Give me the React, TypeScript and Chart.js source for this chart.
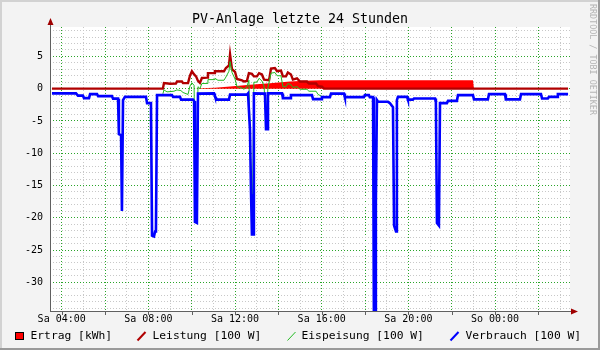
import React, { useEffect, useRef } from "react";
import { Chart, registerables } from "chart.js";

Chart.register(...registerables);

// ---- axis / tick data ----
const xMinHour = 3.46;
const xMaxHour = 27.46;
const yMin = -34.45;
const yMax = 9.55;
const xTickHours = [4, 8, 12, 16, 20, 24];
const xTickLabels = ["Sa 04:00", "Sa 08:00", "Sa 12:00", "Sa 16:00", "Sa 20:00", "So 00:00"];
const yLabelValues = [5, 0, -5, -10, -15, -20, -25, -30];

// ---- series (hours since midnight Saturday, values) ----
const verbrauchHours = [
  3.55, 4.66, 4.75, 4.98, 5.03, 5.26, 5.31, 5.63, 5.68, 6.32, 6.37, 6.6, 6.64, 6.74, 6.78, 6.83, 6.92,
  7.89, 7.94, 8.12, 8.17, 8.26, 8.31, 8.35, 8.4, 9.09, 9.14, 9.46, 9.51, 10.06, 10.11, 10.15, 10.24,
  10.29, 11.03, 11.07, 11.17, 11.72, 11.77, 12.55, 12.6, 12.69, 12.74, 12.78, 12.83, 12.87, 13.38,
  13.43, 13.48, 13.52, 14.17, 14.21, 14.54, 14.58, 15.55, 15.6, 15.97, 16.01, 16.38, 16.43, 17.03,
  17.07, 17.95, 17.99, 18.18, 18.22, 18.37, 18.41, 18.46, 18.5, 18.55, 18.6, 19.06, 19.15, 19.29,
  19.34, 19.43, 19.47, 19.52, 19.94, 19.98, 20.21, 20.26, 21.23, 21.27, 21.32, 21.41, 21.46, 21.78,
  21.83, 22.24, 22.29, 22.98, 23.03, 23.67, 23.72, 24.46, 24.5, 25.15, 25.2, 26.12, 26.17, 26.44,
  26.49, 26.86, 26.9, 27.37,
];
const verbrauchValues = [
  -0.74, -0.74, -1.08, -1.08, -1.47, -1.47, -0.85, -0.85, -1.16, -1.16, -1.55, -1.55, -7.04, -7.2,
  -18.96, -1.78, -1.27, -1.27, -2.24, -2.24, -22.76, -22.9, -22.14, -21.98, -1.01, -1.01, -1.27,
  -1.27, -1.7, -1.7, -1.93, -20.67, -20.82, -0.77, -0.74, -1.16, -1.7, -1.7, -0.93, -0.93, -0.74,
  -6.42, -16.33, -22.6, -22.6, -0.74, -0.77, -6.27, -6.27, -0.74, -0.74, -1.47, -1.47, -1.01, -1.01,
  -1.63, -1.63, -1.32, -1.32, -0.77, -0.77, -1.32, -1.32, -1.01, -1.01, -1.32, -1.32, -36, -36,
  -17.72, -1.78, -2.04, -2.04, -2.24, -2.86, -21.21, -22.14, -1.78, -1.27, -1.27, -1.7, -1.7, -1.52,
  -1.52, -2.09, -20.82, -21.21, -2.24, -2.24, -1.89, -1.89, -1.01, -1.01, -1.67, -1.67, -0.85, -0.85,
  -1.67, -1.67, -0.85, -0.85, -1.52, -1.52, -1.27, -1.27, -0.85, -0.85,
];

const leistungHours = [
  3.55, 8.67, 8.72, 9.0, 9.27, 9.32, 9.55, 9.6, 9.83, 9.92, 10.01, 10.11, 10.2, 10.29, 10.38, 10.47,
  10.71, 10.75, 11.03, 11.07, 11.49, 11.58, 11.72, 11.77, 11.86, 12.0, 12.09, 12.32, 12.41, 12.55,
  12.64, 12.78, 12.87, 13.01, 13.11, 13.24, 13.34, 13.57, 13.66, 13.84, 13.94, 14.12, 14.21, 14.35,
  14.44, 14.58, 14.67, 14.86, 15.0, 15.32, 15.41, 15.74, 15.83, 16.01, 16.1, 27.37,
];
const leistungValues = [
  0, 0, 0.85, 0.75, 0.8, 1.1, 1.1, 0.85, 0.85, 2.0, 2.7, 2.2, 1.9, 1.2, 0.9, 1.65, 1.7, 2.4, 2.4, 2.7,
  2.7, 3.2, 3.6, 5.3, 3.0, 2.6, 1.5, 1.3, 1.1, 1.2, 2.4, 2.3, 1.9, 1.9, 2.4, 2.2, 1.4, 1.3, 3.1, 3.2,
  2.7, 2.8, 1.9, 1.9, 2.5, 2.2, 1.4, 1.6, 1.1, 1.1, 0.8, 0.8, 0.4, 0.3, 0, 0,
];

const einspeisungHours = [
  8.67, 8.72, 8.86, 9.18, 9.32, 9.5, 9.6, 9.83, 9.92, 10.01, 10.11, 10.18, 10.29, 10.38, 10.47, 10.71,
  10.75, 11.03, 11.07, 11.21, 11.49, 11.58, 11.72, 11.77, 11.86, 12.0, 12.09, 12.32, 12.41, 12.55,
  12.64, 12.74, 12.8, 12.87, 13.01, 13.11, 13.24, 13.34, 13.43, 13.52, 13.66, 13.84, 13.94, 14.12,
  14.21, 14.35, 14.44, 14.58, 14.67, 14.86, 15.0, 15.32, 15.41, 15.74, 15.83, 16.01, 16.38,
];
const einspeisungValues = [
  -0.8, -0.2, -0.5, -0.4, -0.2, -0.3, -0.6, -0.9, 0.4, 0.9, 0.5, -19, 0.3, 0.0, 0.8, 0.8, 1.4, 1.4,
  1.6, 1.3, 1.3, 1.8, 2.7, 4.2, 2.5, 1.5, 0.3, 0.1, -0.1, 0.3, 1.3, -14.5, -20, 1.0, 1.0, 1.6, 1.2,
  0.4, -5, 0.2, 2.4, 2.5, 2.0, 2.0, 0.3, 0.3, 0.8, 0.6, 0.2, 0.3, -0.1, -0.1, -0.4, -0.4, -0.9, -1.2,
  -1.3,
];

const ertragHours = [3.55, 10.15, 10.38, 11.07, 11.77, 12.69, 13.61, 14.54, 15.23, 15.92, 22.98, 23.03, 27.37];
const ertragValues = [0, 0, 0.05, 0.15, 0.35, 0.6, 0.85, 1.1, 1.22, 1.3, 1.3, 0, 0];

const legendLabels = ["Ertrag [kWh]", "Leistung [100 W]", "Eispeisung [100 W]", "Verbrauch [100 W]"];
const chartTitle = "PV-Anlage letzte 24 Stunden";
const watermark = "RRDTOOL / TOBI OETIKER";

const COLORS = {
  ertrag: "#ff0000",
  leistung: "#b00000",
  einspeisung: "#22bb22",
  verbrauch: "#0000ff",
  majorGrid: "#2aa52a",
  minorGrid: "#c8c8c8",
  axis: "#606060",
  arrow: "#a00000",
};

const MONO = '"DejaVu Sans Mono", monospace';

const pts = (xs: number[], ys: number[]) => xs.map((x, i) => ({ x, y: ys[i] }));

const rrdPlugin = {
  id: "rrdDecor",
  beforeDraw(chart: any) {
    const { ctx, chartArea } = chart;
    ctx.save();
    ctx.fillStyle = "#f3f3f3";
    ctx.fillRect(0, 0, chart.width, chart.height);
    ctx.fillStyle = "#ffffff";
    ctx.fillRect(chartArea.left, chartArea.top, chartArea.right - chartArea.left, chartArea.bottom - chartArea.top);
    ctx.restore();
  },
  afterDraw(chart: any) {
    const { ctx, chartArea, scales } = chart;
    const xs = scales.x;
    const L = chartArea.left;
    const B = chartArea.bottom;
    ctx.save();
    // axes
    ctx.strokeStyle = COLORS.axis;
    ctx.lineWidth = 1;
    ctx.beginPath();
    ctx.moveTo(L + 0.5, B + 0.5);
    ctx.lineTo(L + 0.5, 24);
    ctx.moveTo(L, B + 0.5);
    ctx.lineTo(chartArea.right + 2, B + 0.5);
    // tick marks every 2 hours
    for (let h = 4; h <= 26; h += 2) {
      const px = Math.round(xs.getPixelForValue(h)) + 0.5;
      ctx.moveTo(px, B + 1);
      ctx.lineTo(px, B + 4);
    }
    ctx.stroke();
    // arrows
    ctx.fillStyle = COLORS.arrow;
    ctx.beginPath();
    ctx.moveTo(L + 0.5, 18);
    ctx.lineTo(L + 3.5, 25);
    ctx.lineTo(L - 2.5, 25);
    ctx.closePath();
    ctx.fill();
    ctx.beginPath();
    ctx.moveTo(chartArea.right + 8, B + 0.5);
    ctx.lineTo(chartArea.right + 1, B - 2.5);
    ctx.lineTo(chartArea.right + 1, B + 3.5);
    ctx.closePath();
    ctx.fill();

    // title
    ctx.fillStyle = "#000";
    ctx.font = `13.3px ${MONO}`;
    ctx.textAlign = "center";
    ctx.textBaseline = "middle";
    ctx.fillText(chartTitle, 300, 20);

    // watermark
    ctx.save();
    ctx.translate(592, 4);
    ctx.rotate(Math.PI / 2);
    ctx.font = `8.4px ${MONO}`;
    ctx.fillStyle = "#b4b4b4";
    ctx.textAlign = "left";
    ctx.textBaseline = "middle";
    ctx.fillText(watermark, 0, 0);
    ctx.restore();

    // legend
    const ly = 336;
    ctx.font = `11.3px ${MONO}`;
    ctx.textAlign = "left";
    ctx.textBaseline = "middle";
    ctx.fillStyle = COLORS.ertrag;
    ctx.fillRect(15, 332, 9, 8);
    ctx.strokeStyle = "#000";
    ctx.lineWidth = 1;
    ctx.strokeRect(15.5, 332.5, 8, 7);
    ctx.fillStyle = "#000";
    ctx.fillText(legendLabels[0], 30.5, ly);

    const icon = (x: number, color: string, w: number) => {
      ctx.strokeStyle = color;
      ctx.lineWidth = w;
      ctx.beginPath();
      ctx.moveTo(x, 340.5);
      ctx.lineTo(x + 8, 332);
      ctx.stroke();
    };
    icon(137.5, COLORS.leistung, 2);
    ctx.fillText(legendLabels[1], 152.5, ly);
    icon(287.5, COLORS.einspeisung, 1);
    ctx.fillText(legendLabels[2], 301.5, ly);
    icon(450.5, COLORS.verbrauch, 2);
    ctx.fillText(legendLabels[3], 465.5, ly);

    // frame
    ctx.lineWidth = 2;
    ctx.strokeStyle = "#d2d2d2";
    ctx.beginPath();
    ctx.moveTo(1, 349);
    ctx.lineTo(1, 1);
    ctx.lineTo(599, 1);
    ctx.stroke();
    ctx.strokeStyle = "#9a9a9a";
    ctx.beginPath();
    ctx.moveTo(599, 0);
    ctx.lineTo(599, 349);
    ctx.lineTo(0, 349);
    ctx.stroke();
    ctx.restore();
  },
};

export default function App() {
  const canvasRef = useRef<HTMLCanvasElement | null>(null);

  useEffect(() => {
    if (!canvasRef.current) return;
    const chart = new Chart(canvasRef.current, {
      type: "line",
      data: {
        datasets: [
          {
            label: legendLabels[3],
            data: pts(verbrauchHours, verbrauchValues),
            borderColor: COLORS.verbrauch,
            borderWidth: 2.6,
            pointRadius: 0,
            fill: false,
            tension: 0,
            order: 0,
          },
          {
            label: legendLabels[2],
            data: pts(einspeisungHours, einspeisungValues),
            borderColor: COLORS.einspeisung,
            borderWidth: 1,
            pointRadius: 0,
            fill: false,
            tension: 0,
            order: 1,
          },
          {
            label: legendLabels[1],
            data: pts(leistungHours, leistungValues),
            borderColor: COLORS.leistung,
            borderWidth: 2.4,
            pointRadius: 0,
            fill: false,
            tension: 0,
            order: 2,
          },
          {
            label: legendLabels[0],
            data: pts(ertragHours, ertragValues),
            borderColor: COLORS.ertrag,
            backgroundColor: COLORS.ertrag,
            borderWidth: 0,
            pointRadius: 0,
            fill: "origin",
            tension: 0,
            order: 3,
          },
        ],
      },
      options: {
        animation: false,
        responsive: false,
        devicePixelRatio: 1,
        events: [],
        layout: { padding: { left: 0, right: 30, top: 27, bottom: 0 } },
        plugins: {
          legend: { display: false },
          title: { display: false },
          tooltip: { enabled: false },
        },
        scales: {
          x: {
            type: "linear",
            min: xMinHour,
            max: xMaxHour,
            afterBuildTicks: (scale: any) => {
              const t = [];
              for (let h = 4; h <= 27; h++) t.push({ value: h });
              scale.ticks = t;
            },
            afterFit: (scale: any) => {
              scale.height = 39;
            },
            ticks: {
              autoSkip: false,
              maxRotation: 0,
              minRotation: 0,
              padding: 2,
              color: "#000",
              font: { family: "DejaVu Sans Mono", size: 10 },
              callback: (value: any) => {
                const i = xTickHours.indexOf(Number(value));
                return i >= 0 ? xTickLabels[i] : "";
              },
            },
            grid: {
              drawTicks: false,
              lineWidth: 1,
              color: (ctx: any) =>
                ctx.tick && ctx.tick.value % 2 === 0 ? COLORS.majorGrid : COLORS.minorGrid,
            },
            border: { display: false, dash: [1, 2] },
          },
          y: {
            type: "linear",
            min: yMin,
            max: yMax,
            afterBuildTicks: (scale: any) => {
              const t = [];
              for (let v = -34; v <= 9; v++) t.push({ value: v });
              scale.ticks = t;
            },
            afterFit: (scale: any) => {
              scale.width = 50;
            },
            ticks: {
              autoSkip: false,
              padding: 7,
              color: "#000",
              font: { family: "DejaVu Sans Mono", size: 10 },
              callback: (value: any) =>
                yLabelValues.includes(Number(value)) ? String(value) : "",
            },
            grid: {
              drawTicks: false,
              lineWidth: 1,
              color: (ctx: any) =>
                ctx.tick && ctx.tick.value % 5 === 0 ? COLORS.majorGrid : COLORS.minorGrid,
            },
            border: { display: false, dash: [1, 2] },
          },
        },
      },
      plugins: [rrdPlugin],
    });
    return () => chart.destroy();
  }, []);

  return (
    <div style={{ position: "fixed", left: 0, top: 0, width: 600, height: 350 }}>
      <canvas ref={canvasRef} width={600} height={350} style={{ display: "block", width: 600, height: 350 }} />
    </div>
  );
}
